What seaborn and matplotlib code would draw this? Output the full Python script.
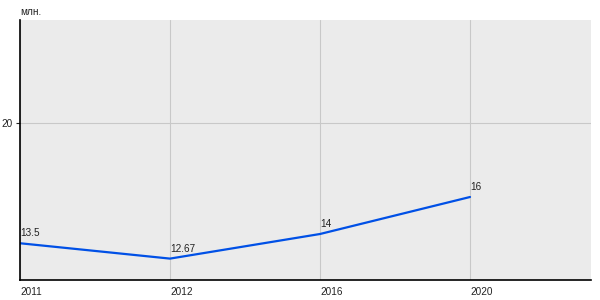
import matplotlib
matplotlib.use("Agg")
import matplotlib.pyplot as plt
import seaborn as sns
import pandas as pd

years = ["2011", "2012", "2016", "2020"]
values = [13.5, 12.67, 14, 16]
labels = ["13.5", "12.67", "14", "16"]

sns.set_style("white", {"axes.facecolor": "#EBEBEB"})
plt.rcParams['font.family'] = ['Liberation Sans', 'DejaVu Sans']

df = pd.DataFrame({"idx": range(len(years)), "value": values})

fig = plt.figure(figsize=(6, 3), dpi=100)
ax = fig.add_axes([20/600, 20/300, 571/600, 260/300])
ax.set_facecolor("#EBEBEB")

ax.set_xlim(0, 571/150)
ax.set_ylim(20 - 157/18.5, 20 + 103/18.5)
ax.set_xticks(range(len(years)))
ax.set_xticklabels(years, ha="left")
ax.set_yticks([20])
ax.set_yticklabels(["20"])
ax.grid(True, color="#C8C8C8", linewidth=0.8)
ax.set_axisbelow(True)

sns.lineplot(data=df, x="idx", y="value", ax=ax, color="#0050E6", linewidth=1.6)

for i, (v, t) in enumerate(zip(values, labels)):
    ax.annotate(t, (i, v), xytext=(0.5, 3.5), textcoords="offset points",
                ha="left", va="bottom", fontsize=7.2, color="#222222")

for s in ["top", "right"]:
    ax.spines[s].set_visible(False)
for s in ["left", "bottom"]:
    ax.spines[s].set_color("black")
    ax.spines[s].set_linewidth(1.2)

ax.tick_params(axis="x", length=0, pad=5, labelsize=7.2, colors="#222222")
ax.tick_params(axis="y", length=3, width=0.8, pad=2, labelsize=7.2, colors="#222222", left=True)
ax.set_xlabel("")
ax.set_ylabel("")
fig.text(20/600, 1 - 12/300, "млн.", fontsize=7.2, color="#222222", ha="left", va="center")

fig.savefig("out.png", dpi=100)
